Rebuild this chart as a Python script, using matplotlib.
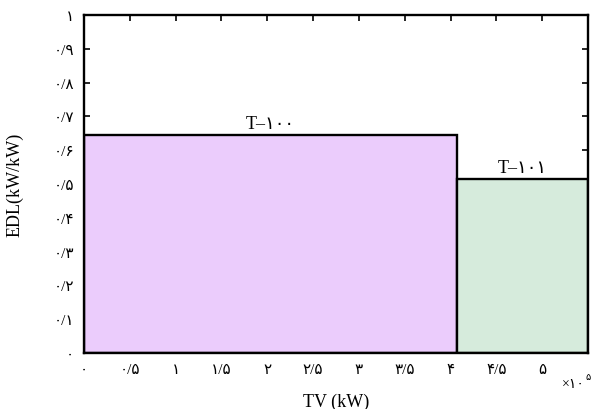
import matplotlib
matplotlib.use("Agg")
import matplotlib.pyplot as plt

# data (x in units of 1e5 kW)
names   = ["T–۱۰۰", "T–۱۰۱"]
x_start = [0.0, 4.07]
x_width = [4.07, 1.43]
edl     = [0.645, 0.515]
colors  = ["#EBCCFC", "#D6EBDC"]

x_ticks  = [0, 0.5, 1, 1.5, 2, 2.5, 3, 3.5, 4, 4.5, 5]
x_labels = ["۰", "۰/۵", "۱", "۱/۵", "۲", "۲/۵", "۳", "۳/۵", "۴", "۴/۵", "۵"]
y_ticks  = [0, 0.1, 0.2, 0.3, 0.4, 0.5, 0.6, 0.7, 0.8, 0.9, 1]
y_labels = ["۰", "۰/۱", "۰/۲", "۰/۳", "۰/۴", "۰/۵", "۰/۶", "۰/۷", "۰/۸", "۰/۹", "۱"]

FAM = ["Liberation Serif", "DejaVu Sans"]
plt.rcParams["font.family"] = FAM

fig = plt.figure(figsize=(5.94, 4.10), dpi=100)
ax = fig.add_axes([0.1414, 0.1366, 0.8485, 0.8244])

ax.bar(x_start, edl, width=x_width, align="edge", color=colors,
       edgecolor="black", linewidth=1.7)
for xs, w, h, n in zip(x_start, x_width, edl, names):
    ax.text(xs + w / 2, h + 0.01, n, ha="center", va="bottom", fontsize=13)

ax.set_xlim(0, 5.5)
ax.set_ylim(0, 1)
ax.set_axisbelow(True)
ax.set_xticks(x_ticks)
ax.set_xticklabels(x_labels, fontsize=11)
ax.set_yticks(y_ticks)
ax.set_yticklabels(y_labels, fontsize=11)
ax.tick_params(direction="in", top=True, right=True, length=4, width=1.2, pad=7)
for s in ax.spines.values():
    s.set_linewidth(1.7)

ax.set_xlabel("TV (kW)", fontsize=13, labelpad=12)
ax.set_ylabel("EDL(kW/kW)", fontsize=13, labelpad=22)

# multiplier below the x axis, with a raised exponent
ax.annotate("×۱۰", xy=(1.0, 0), xycoords="axes fraction", xytext=(-2, -17),
            textcoords="offset points", ha="right", va="top", fontsize=10)
ax.annotate("۵", xy=(1.0, 0), xycoords="axes fraction", xytext=(-2, -14),
            textcoords="offset points", ha="left", va="top", fontsize=7)

plt.savefig("out.png", dpi=100)
